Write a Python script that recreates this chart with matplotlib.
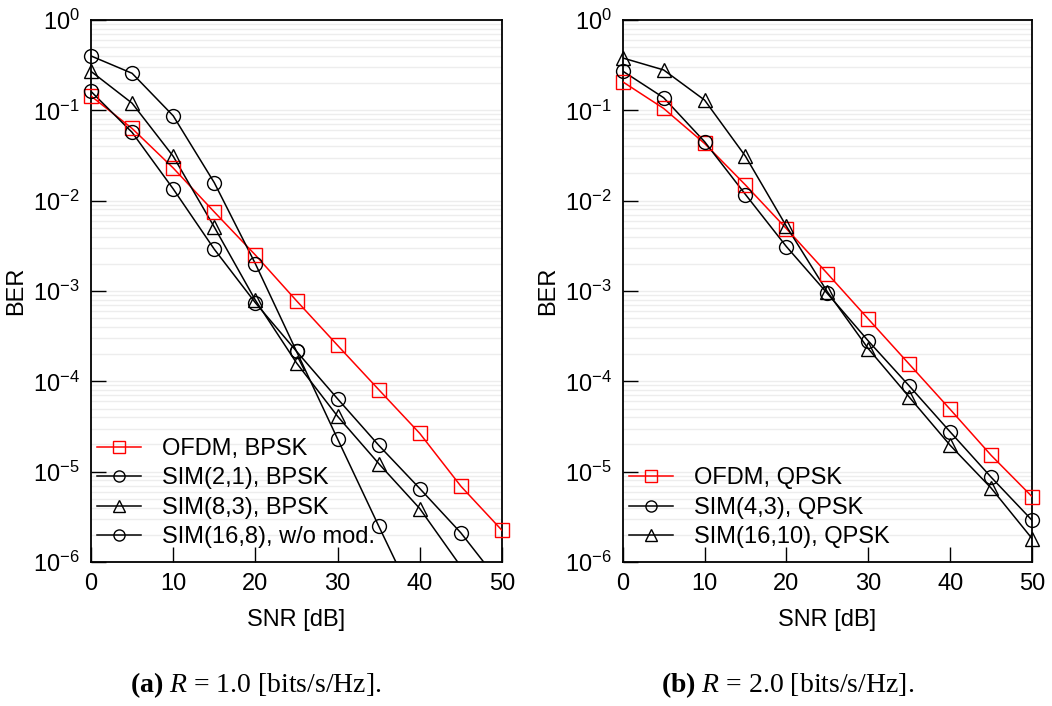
import numpy as np
import matplotlib
matplotlib.use('Agg')
import matplotlib.pyplot as plt
from matplotlib.ticker import LogLocator, NullFormatter
from matplotlib.legend_handler import HandlerTuple

plt.rcParams['font.family'] = ['Liberation Sans', 'DejaVu Sans']
plt.rcParams['mathtext.fontset'] = 'custom'
plt.rcParams['mathtext.rm'] = 'Liberation Serif'
plt.rcParams['mathtext.it'] = 'Liberation Serif:italic'
plt.rcParams['mathtext.bf'] = 'Liberation Serif:bold'

snr = [0, 5, 10, 15, 20, 25, 30, 35, 40, 45, 50]
nan = np.nan

# (a) R = 1.0
ofdm_bpsk = [0.144, 0.063, 0.023, 0.0075, 0.0025, 7.8e-4, 2.5e-4, 8.1e-5, 2.65e-5, 6.9e-6, 2.24e-6]
sim21_bpsk = [0.40, 0.257, 0.087, 0.0158, 0.0020, 2.15e-4, 2.3e-5, 2.5e-6, 2.8e-7, nan, nan]
sim83_bpsk = [0.27, 0.12, 0.031, 0.0051, 7.9e-4, 1.6e-4, 4.1e-5, 1.23e-5, 3.9e-6, 8.9e-7, nan]
sim168_nomod = [0.162, 0.057, 0.0135, 0.0029, 7.4e-4, 2.15e-4, 6.4e-5, 1.96e-5, 6.5e-6, 2.1e-6, 5.5e-7]

# (b) R = 2.0
ofdm_qpsk = [0.207, 0.105, 0.043, 0.0149, 0.0049, 1.56e-3, 4.9e-4, 1.55e-4, 4.9e-5, 1.52e-5, 5.3e-6]
sim43_qpsk = [0.272, 0.138, 0.045, 0.0117, 0.0031, 9.4e-4, 2.8e-4, 8.9e-5, 2.76e-5, 8.7e-6, 2.9e-6]
sim1610_qpsk = [0.38, 0.28, 0.13, 0.031, 0.0052, 9.8e-4, 2.3e-4, 6.7e-5, 1.96e-5, 6.6e-6, 1.82e-6]

left_series = [
    (ofdm_bpsk, 'OFDM, BPSK', 'red', 's'),
    (sim21_bpsk, 'SIM(2,1), BPSK', 'black', 'o'),
    (sim83_bpsk, 'SIM(8,3), BPSK', 'black', '^'),
    (sim168_nomod, 'SIM(16,8), w/o mod.', 'black', 'o'),
]
right_series = [
    (ofdm_qpsk, 'OFDM, QPSK', 'red', 's'),
    (sim43_qpsk, 'SIM(4,3), QPSK', 'black', 'o'),
    (sim1610_qpsk, 'SIM(16,10), QPSK', 'black', '^'),
]

fs = 17
fig = plt.figure(figsize=(10.52, 7.06), dpi=100)
ax1 = fig.add_axes([91 / 1052, 144 / 706, 411 / 1052, 542 / 706])
ax2 = fig.add_axes([622.7 / 1052, 144 / 706, 409.3 / 1052, 542 / 706])


def draw(ax, series):
    handles = []
    x = np.array(snr, dtype=float)
    for vals, label, color, mk in series:
        y = np.array(vals, dtype=float)
        line, = ax.plot(x, y, color=color, lw=1.1, zorder=3)
        inside = y >= 1e-6
        pts, = ax.plot(x[inside], y[inside], ls='none', marker=mk, ms=10,
                       mfc='none', mec=color, mew=1.0, clip_on=False, zorder=4)
        handles.append(((line, pts), label))
    ax.set_yscale('log')
    ax.set_xlim(0, 50)
    ax.set_ylim(1e-6, 1)
    ax.set_xticks([0, 10, 20, 30, 40, 50])
    ax.yaxis.set_major_locator(LogLocator(base=10, numticks=10))
    ax.yaxis.set_minor_locator(LogLocator(base=10, subs=np.arange(2, 10), numticks=20))
    ax.yaxis.set_minor_formatter(NullFormatter())
    ax.grid(True, which='both', axis='y', color='#ededed', lw=1.0, zorder=0)
    ax.set_axisbelow(True)
    ax.tick_params(axis='both', which='major', direction='in', length=11, width=1.0,
                   labelsize=fs, pad=8, top=False, right=False)
    ax.tick_params(axis='y', which='minor', length=0)
    for sp in ax.spines.values():
        sp.set_linewidth(1.3)
    ax.set_xlabel('SNR [dB]', fontsize=fs, labelpad=10)
    ax.set_ylabel('BER', fontsize=fs, labelpad=4)
    ax.legend([h for h, _ in handles], [l for _, l in handles],
              loc='lower left', bbox_to_anchor=(0.015, 0.025), frameon=False,
              fontsize=fs, handlelength=1.85, handletextpad=0.9, markerscale=0.8,
              labelspacing=0.32, borderpad=0, borderaxespad=0,
              handler_map={tuple: HandlerTuple(ndivide=1, pad=0)})


draw(ax1, left_series)
draw(ax2, right_series)

cap_y = 14 / 706
fig.text(256 / 1052, cap_y, r'$\mathbf{(a)}$ $\mathit{R}$ = 1.0 [bits/s/Hz].',
         ha='center', va='baseline', fontsize=20, family='Liberation Serif')
fig.text(788 / 1052, cap_y, r'$\mathbf{(b)}$ $\mathit{R}$ = 2.0 [bits/s/Hz].',
         ha='center', va='baseline', fontsize=20, family='Liberation Serif')

fig.savefig('out.png', dpi=100)
